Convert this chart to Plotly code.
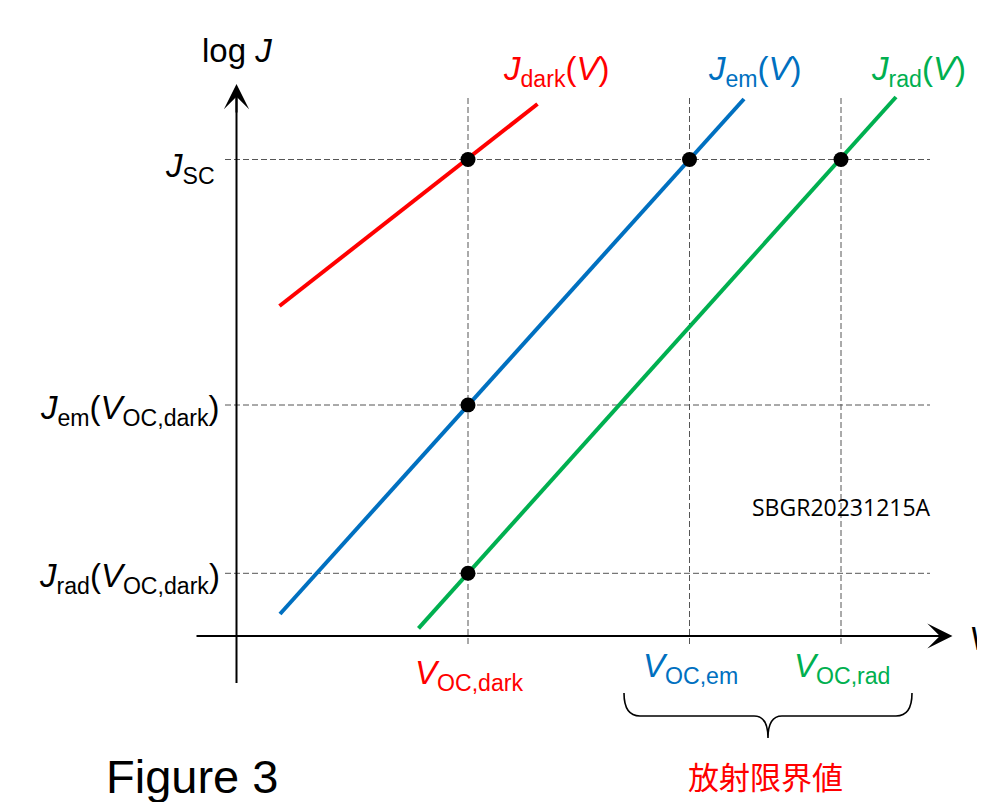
import plotly.graph_objects as go

# ---------------- data (schematic units: V and log J) ----------------
voc_names = ["dark", "em", "rad"]
voc_values = [2.315, 4.53, 6.045]           # V_OC,dark, V_OC,em, V_OC,rad
voc_colors = ["#FF0000", "#0070C0", "#00B050"]

level_names = ["J_SC", "J_em(V_OC,dark)", "J_rad(V_OC,dark)"]
level_values = [4.765, 2.31, 0.627]         # log J levels

# straight J(V) curves (end points)
dark_v = [0.43, 3.01]
dark_logj = [3.30, 5.32]
em_v = [0.435, 5.075]
em_logj = [0.22, 5.37]
rad_v = [1.82, 6.595]
rad_logj = [0.077, 5.39]

# marked points: (V, logJ) pairs
dot_v = [voc_values[0], voc_values[1], voc_values[2], voc_values[0], voc_values[0]]
dot_logj = [level_values[0], level_values[0], level_values[0], level_values[1], level_values[2]]

# axis extents
x_axis_start, x_axis_end = -0.40, 7.16
y_axis_start, y_axis_end = -0.47, 5.52
hdash_extent = [-0.115, 6.935]
vdash_extent = [-0.08, 5.40]

# brace below V_OC,em and V_OC,rad
brace_left, brace_mid, brace_right = 3.875, 5.315, 6.755
brace_top, brace_flat, brace_tip = -0.57, -0.80, -1.02

FONT = "Liberation Sans, Arial, sans-serif"
DASH_COL = "#555555"
fig = go.Figure()

# dashed guide lines
for lv in level_values:
    fig.add_trace(go.Scatter(x=hdash_extent, y=[lv, lv], mode="lines",
                             line=dict(color=DASH_COL, width=1, dash="6px,3px"),
                             hoverinfo="skip", showlegend=False))
for vv in voc_values:
    fig.add_trace(go.Scatter(x=[vv, vv], y=vdash_extent, mode="lines",
                             line=dict(color=DASH_COL, width=1, dash="6px,3px"),
                             hoverinfo="skip", showlegend=False))

# J(V) lines
for xs, ys, col in [(dark_v, dark_logj, voc_colors[0]),
                    (em_v, em_logj, voc_colors[1]),
                    (rad_v, rad_logj, voc_colors[2])]:
    fig.add_trace(go.Scatter(x=xs, y=ys, mode="lines",
                             line=dict(color=col, width=4),
                             hoverinfo="skip", showlegend=False))

# axes (lines)
fig.add_trace(go.Scatter(x=[0, 0], y=[y_axis_start, y_axis_end - 0.08], mode="lines",
                         line=dict(color="black", width=2), hoverinfo="skip", showlegend=False))
fig.add_trace(go.Scatter(x=[x_axis_start, x_axis_end - 0.08], y=[0, 0], mode="lines",
                         line=dict(color="black", width=2), hoverinfo="skip", showlegend=False))

# dots
fig.add_trace(go.Scatter(x=dot_v, y=dot_logj, mode="markers",
                         marker=dict(color="black", size=15),
                         hoverinfo="skip", showlegend=False))

ann = []
# arrow heads
ann.append(dict(x=x_axis_end, y=0, ax=x_axis_end - 0.3, ay=0, xref="x", yref="y",
                axref="x", ayref="y", text="", showarrow=True, arrowhead=3,
                arrowsize=2.1, arrowwidth=2, arrowcolor="black"))
ann.append(dict(x=0, y=y_axis_end, ax=0, ay=y_axis_end - 0.3, xref="x", yref="y",
                axref="x", ayref="y", text="", showarrow=True, arrowhead=3,
                arrowsize=2.1, arrowwidth=2, arrowcolor="black"))

def label(x, y, text, color="black", size=33, xanchor="center", yanchor="middle", family=FONT):
    ann.append(dict(x=x, y=y, xref="x", yref="y", text=text, showarrow=False,
                    xanchor=xanchor, yanchor=yanchor,
                    font=dict(family=family, size=size, color=color)))

label(0.0, 5.86, "log <i>J</i>")
label(7.30, -0.02, "<i>V</i>", xanchor="left")

label(-0.195, level_values[0] - 0.08, "<i>J</i><sub>SC</sub>", xanchor="right")
label(-0.145, level_values[1] - 0.05, "<i>J</i><sub>em</sub>(<i>V</i><sub>OC,dark</sub>)", xanchor="right")
label(-0.145, level_values[2] - 0.05, "<i>J</i><sub>rad</sub>(<i>V</i><sub>OC,dark</sub>)", xanchor="right")

label(3.195, 5.65, "<i>J</i><sub>dark</sub>(<i>V</i>)", color=voc_colors[0])
label(5.18, 5.65, "<i>J</i><sub>em</sub>(<i>V</i>)", color=voc_colors[1])
label(6.82, 5.65, "<i>J</i><sub>rad</sub>(<i>V</i>)", color=voc_colors[2])

label(voc_values[0] + 0.01, -0.39, "<i>V</i><sub>OC,dark</sub>", color=voc_colors[0])
label(voc_values[1] + 0.005, -0.32, "<i>V</i><sub>OC,em</sub>", color=voc_colors[1])
label(voc_values[2] + 0.01, -0.32, "<i>V</i><sub>OC,rad</sub>", color=voc_colors[2])

label(6.045, 1.29, "SBGR20231215A", size=23, family="Open Sans, DejaVu Sans, sans-serif")
label(-0.45, -1.40, "Figure 3", size=47)
label(5.29, -1.39, "放射限界値", color="#FF0000", size=31, family="Noto Sans CJK JP")

# curly brace
r = 0.16
m = 0.14
path = (f"M {brace_left},{brace_top} Q {brace_left},{brace_flat} {brace_left + r},{brace_flat} "
        f"L {brace_mid - m},{brace_flat} Q {brace_mid},{brace_flat} {brace_mid},{brace_tip} "
        f"Q {brace_mid},{brace_flat} {brace_mid + m},{brace_flat} "
        f"L {brace_right - r},{brace_flat} Q {brace_right},{brace_flat} {brace_right},{brace_top}")
fig.add_shape(type="path", path=path, xref="x", yref="y",
              line=dict(color="black", width=1.6))

# page body has an 8px margin: size the figure so the page does not overflow
fig.update_layout(
    width=977, height=794, autosize=False,
    margin=dict(l=0, r=0, t=0, b=0, pad=0),
    paper_bgcolor="white", plot_bgcolor="white",
    xaxis=dict(range=[-2.285, 7.485], visible=False, fixedrange=True),
    yaxis=dict(range=[-1.66, 6.28], visible=False, fixedrange=True),
    annotations=ann,
    showlegend=False,
)

fig.write_html("out.html", config={"displayModeBar": False})
